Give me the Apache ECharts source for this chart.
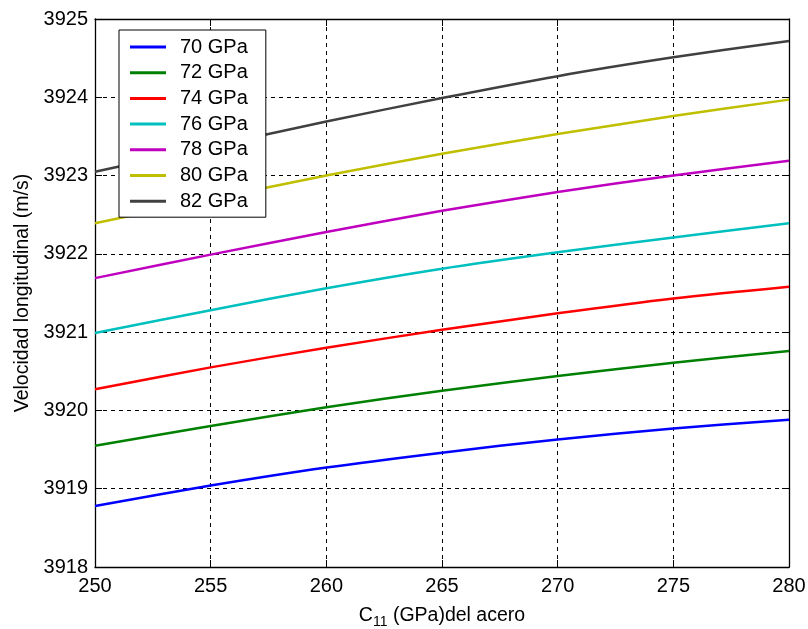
<!DOCTYPE html>
<html>
<head>
<meta charset="utf-8">
<script src="https://cdn.jsdelivr.net/npm/echarts@6/dist/echarts.min.js"></script>
<style>html,body{margin:0;padding:0;background:#fff}#c{width:808px;height:629px}</style>
</head>
<body>
<div id="c"></div>
<script>
var xValues = [250, 255, 260, 265, 270, 275, 280];
var seriesNames = ['70 GPa', '72 GPa', '74 GPa', '76 GPa', '78 GPa', '80 GPa', '82 GPa'];
var v70 = [3918.78, 3919.04, 3919.27, 3919.46, 3919.63, 3919.77, 3919.88];
var v72 = [3919.55, 3919.80, 3920.04, 3920.25, 3920.44, 3920.61, 3920.76];
var v74 = [3920.27, 3920.55, 3920.80, 3921.03, 3921.24, 3921.43, 3921.58];
var v76 = [3920.99, 3921.28, 3921.56, 3921.81, 3922.02, 3922.21, 3922.39];
var v78 = [3921.69, 3921.99, 3922.28, 3922.55, 3922.79, 3923.00, 3923.19];
var v80 = [3922.39, 3922.70, 3923.00, 3923.28, 3923.53, 3923.76, 3923.97];
var v82 = [3923.05, 3923.37, 3923.69, 3923.99, 3924.27, 3924.51, 3924.72];
var allValues = [v70, v72, v74, v76, v78, v80, v82];
var colors = ['#0000ff', '#008000', '#ff0000', '#00bfbf', '#bf00bf', '#bfbf00', '#404040'];

var FONT = '"Liberation Sans", Arial, sans-serif';
var chart = echarts.init(document.getElementById('c'), null, {renderer: 'canvas'});

var series = seriesNames.map(function (n, i) {
  return {
    name: n,
    type: 'line',
    xAxisIndex: 0,
    yAxisIndex: 0,
    data: xValues.map(function (x, j) { return [x, allValues[i][j]]; }),
    smooth: 0.3,
    showSymbol: false,
    symbol: 'none',
    lineStyle: {color: colors[i], width: 2.5},
    itemStyle: {color: colors[i]},
    animation: false
  };
});

var splitDash = {show: true, lineStyle: {color: '#000', type: [4, 4], width: 1}};
var axisLineStyle = {show: true, lineStyle: {color: '#000', width: 1.3}};

chart.setOption({
  animation: false,
  backgroundColor: '#fff',
  grid: {left: 95, right: 19, top: 19, bottom: 62, containLabel: false, outerBoundsMode: 'none'},
  legend: {
    orient: 'vertical',
    left: 119,
    top: 30,
    data: seriesNames,
    icon: 'rect',
    itemWidth: 36,
    itemHeight: 3,
    itemGap: 5.7,
    padding: [7, 18, 6, 11],
    borderColor: '#000',
    borderWidth: 1,
    backgroundColor: '#fff',
    textStyle: {fontFamily: FONT, fontSize: 20, color: '#000', lineHeight: 20, padding: [0, 0, 0, 9]}
  },
  xAxis: [{
    type: 'value', min: 250, max: 280, interval: 5,
    position: 'bottom',
    axisLine: axisLineStyle,
    axisTick: {show: true, inside: true, length: 7, lineStyle: {color: '#000'}},
    axisLabel: {fontFamily: FONT, fontSize: 20, color: '#000', margin: 9},
    splitLine: splitDash,
    name: 'C{sub|11} (GPa)del acero',
    nameLocation: 'middle',
    nameGap: 36,
    nameTextStyle: {fontFamily: FONT, fontSize: 19.5, color: '#000',
      rich: {sub: {fontFamily: FONT, fontSize: 14, color: '#000', padding: [12, 0, 0, 0]}}}
  }, {
    type: 'value', min: 250, max: 280, interval: 5,
    position: 'top',
    axisLine: axisLineStyle,
    axisTick: {show: true, inside: true, length: 7, lineStyle: {color: '#000'}},
    axisLabel: {show: false},
    splitLine: {show: false}
  }],
  yAxis: [{
    type: 'value', min: 3918, max: 3925, interval: 1,
    position: 'left',
    axisLine: axisLineStyle,
    axisTick: {show: true, inside: true, length: 7, lineStyle: {color: '#000'}},
    axisLabel: {fontFamily: FONT, fontSize: 20, color: '#000', margin: 7,
      formatter: function (v) { return String(v); }},
    splitLine: splitDash,
    name: 'Velocidad longitudinal (m/s)',
    nameLocation: 'middle',
    nameGap: 58,
    nameTextStyle: {fontFamily: FONT, fontSize: 19.5, color: '#000'}
  }, {
    type: 'value', min: 3918, max: 3925, interval: 1,
    position: 'right',
    axisLine: axisLineStyle,
    axisTick: {show: true, inside: true, length: 7, lineStyle: {color: '#000'}},
    axisLabel: {show: false},
    splitLine: {show: false}
  }],
  series: series
});
</script>
</body>
</html>
